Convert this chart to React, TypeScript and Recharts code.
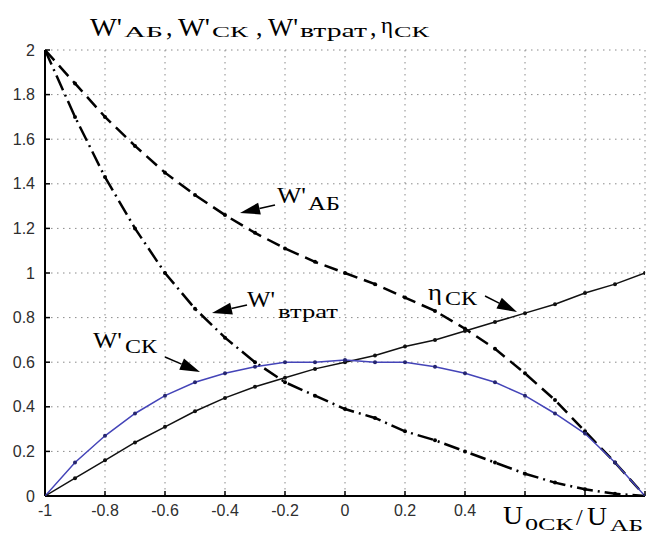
import { CartesianGrid, Line, LineChart, XAxis, YAxis } from "recharts";

const xValues = [-1, -0.9, -0.8, -0.7, -0.6, -0.5, -0.4, -0.3, -0.2, -0.1, 0, 0.1, 0.2, 0.3, 0.4, 0.5, 0.6, 0.7, 0.8, 0.9, 1];
const wAB = [2.0, 1.85, 1.7, 1.57, 1.45, 1.35, 1.26, 1.18, 1.11, 1.05, 1.0, 0.95, 0.89, 0.83, 0.75, 0.66, 0.55, 0.43, 0.29, 0.15, 0];
const wSK = [0, 0.15, 0.27, 0.37, 0.45, 0.51, 0.55, 0.58, 0.6, 0.6, 0.61, 0.6, 0.6, 0.58, 0.55, 0.51, 0.45, 0.37, 0.28, 0.15, 0];
const wLoss = [2.0, 1.7, 1.43, 1.2, 1.0, 0.84, 0.71, 0.6, 0.51, 0.45, 0.39, 0.35, 0.29, 0.25, 0.2, 0.15, 0.1, 0.06, 0.03, 0.01, 0];
const etaSK = [0, 0.08, 0.16, 0.24, 0.31, 0.38, 0.44, 0.49, 0.53, 0.57, 0.6, 0.63, 0.67, 0.7, 0.74, 0.78, 0.82, 0.86, 0.91, 0.95, 1.0];

const xTicks = [-1, -0.8, -0.6, -0.4, -0.2, 0, 0.2, 0.4, 0.6, 0.8, 1];
const yTicks = [0, 0.2, 0.4, 0.6, 0.8, 1, 1.2, 1.4, 1.6, 1.8, 2];
// the axis caption covers the last three x labels in the original
const xLabelLimit = 0.4;

const rows = xValues.map((x, i) => ({ x, wAB: wAB[i], wSK: wSK[i], wLoss: wLoss[i], eta: etaSK[i] }));

const serif = '"Liberation Serif", "DejaVu Serif", serif';
const tickStyle = { fontSize: 16, fill: "#2e2e2e", fontFamily: '"Liberation Sans", Arial, sans-serif' };

function Arrow({ from, to }: { from: [number, number]; to: [number, number] }) {
  const [x0, y0] = from;
  const [x1, y1] = to;
  const len = Math.hypot(x1 - x0, y1 - y0);
  const ux = (x1 - x0) / len;
  const uy = (y1 - y0) / len;
  const hl = 20;
  const hw = 6;
  const bx = x1 - ux * hl;
  const by = y1 - uy * hl;
  const pts = `${x1},${y1} ${bx - uy * hw},${by + ux * hw} ${bx + uy * hw},${by - ux * hw}`;
  return (
    <g>
      <line x1={x0} y1={y0} x2={bx} y2={by} stroke="#000" strokeWidth={1.5} />
      <polygon points={pts} fill="#000" />
    </g>
  );
}

function Sym({ x, y, main, mainW, sub, subX, subY, subW, size = 24, subSize = 19 }: {
  x: number; y: number; main: string; mainW: number; sub: string; subX: number; subY: number; subW: number; size?: number; subSize?: number;
}) {
  return (
    <g fill="#000">
      <text x={x} y={y} style={{ fontFamily: serif, fontSize: size }} textLength={mainW} lengthAdjust="spacingAndGlyphs">{main}</text>
      <text x={subX} y={subY} style={{ fontFamily: serif, fontSize: subSize }} textLength={subW} lengthAdjust="spacingAndGlyphs">{sub}</text>
    </g>
  );
}

function Plain({ x, y, size, children }: { x: number; y: number; size: number; children: string }) {
  return <text x={x} y={y} style={{ fontFamily: serif, fontSize: size }} fill="#000">{children}</text>;
}

function Overlay() {
  return (
    <svg width={647} height={536} style={{ position: "absolute", left: 0, top: 0, pointerEvents: "none" }}>
      {/* title */}
      <Sym x={90} y={36} main="W'" mainW={32} sub="АБ" subX={124} subY={37} subW={39} size={26} subSize={15} />
      <Plain x={166} y={36} size={26}>,</Plain>
      <Sym x={178} y={36} main="W'" mainW={32} sub="СК" subX={212} subY={37} subW={36} size={26} subSize={15} />
      <Plain x={256} y={36} size={26}>,</Plain>
      <Sym x={268} y={36} main="W'" mainW={30} sub="втрат" subX={300} subY={37} subW={67} size={26} subSize={18} />
      <Plain x={370} y={36} size={26}>,</Plain>
      <Sym x={381} y={33} main="η" mainW={12} sub="СК" subX={394} subY={37} subW={35} size={24} subSize={15} />

      {/* curve annotations */}
      <Sym x={277} y={203} main="W'" mainW={29} sub="АБ" subX={308} subY={210} subW={32} />
      <Arrow from={[275, 205]} to={[240, 213]} />
      <Sym x={247} y={307} main="W'" mainW={28} sub="втрат" subX={278} subY={318} subW={60} />
      <Arrow from={[247, 305]} to={[212, 313]} />
      <Sym x={93} y={348} main="W'" mainW={29} sub="СК" subX={125} subY={353} subW={32} />
      <Arrow from={[165, 357]} to={[200, 372]} />
      <Sym x={428} y={300} main="η" mainW={14} sub="СК" subX={445} subY={305} subW={32} />
      <Arrow from={[485, 296]} to={[517, 312]} />

      {/* x axis caption */}
      <Sym x={503} y={524} main="U" mainW={20} sub="0СК" subX={525} subY={530} subW={48} size={26} subSize={16} />
      <Plain x={576} y={525} size={24}>/</Plain>
      <Sym x={587} y={525} main="U" mainW={20} sub="АБ" subX={610} subY={531} subW={33} size={26} subSize={16} />
    </svg>
  );
}

export default function App() {
  return (
    <div style={{ position: "absolute", left: 0, top: 0, width: 647, height: 536, background: "#fff" }}>
      <LineChart width={647} height={536} data={rows} margin={{ top: 50, right: 2, bottom: 0, left: 0 }}>
        <CartesianGrid stroke="#8a8a8a" strokeDasharray="1.5 4.5" />
        <XAxis
          dataKey="x"
          type="number"
          domain={[-1, 1]}
          ticks={xTicks}
          height={40}
          tickSize={-5}
          tickMargin={14}
          tick={tickStyle}
          tickFormatter={(v: number) => (v > xLabelLimit ? "" : String(v))}
          axisLine={{ stroke: "#000", strokeWidth: 2 }}
          tickLine={{ stroke: "#000", strokeWidth: 1.5 }}
          allowDataOverflow
        />
        <XAxis
          xAxisId="top"
          orientation="top"
          dataKey="x"
          type="number"
          domain={[-1, 1]}
          ticks={xTicks}
          height={0}
          tickSize={-5}
          tick={false}
          axisLine={{ stroke: "#000", strokeWidth: 2 }}
          tickLine={{ stroke: "#000", strokeWidth: 1.5 }}
          allowDataOverflow
        />
        <YAxis
          type="number"
          domain={[0, 2]}
          ticks={yTicks}
          width={45}
          tickSize={-5}
          tickMargin={15}
          tick={tickStyle}
          axisLine={{ stroke: "#000", strokeWidth: 2 }}
          tickLine={{ stroke: "#000", strokeWidth: 1.5 }}
          allowDataOverflow
        />
        <YAxis
          yAxisId="right"
          orientation="right"
          type="number"
          domain={[0, 2]}
          ticks={yTicks}
          width={0}
          tickSize={-5}
          tick={false}
          axisLine={{ stroke: "#000", strokeWidth: 2 }}
          tickLine={{ stroke: "#000", strokeWidth: 1.5 }}
          allowDataOverflow
        />
        <Line
          dataKey="wAB"
          stroke="#000"
          strokeWidth={2.5}
          strokeDasharray="14 7"
          dot={{ r: 2, fill: "#000", stroke: "none" }}
          isAnimationActive={false}
        />
        <Line
          dataKey="wLoss"
          stroke="#000"
          strokeWidth={2.5}
          strokeDasharray="16 5 2 5"
          dot={{ r: 2, fill: "#000", stroke: "none" }}
          isAnimationActive={false}
        />
        <Line
          dataKey="eta"
          stroke="#111"
          strokeWidth={1.5}
          dot={{ r: 2, fill: "#111", stroke: "none" }}
          isAnimationActive={false}
        />
        <Line
          dataKey="wSK"
          stroke="#4444b8"
          strokeWidth={1.5}
          dot={{ r: 2, fill: "#262670", stroke: "none" }}
          isAnimationActive={false}
        />
      </LineChart>
      <Overlay />
    </div>
  );
}
